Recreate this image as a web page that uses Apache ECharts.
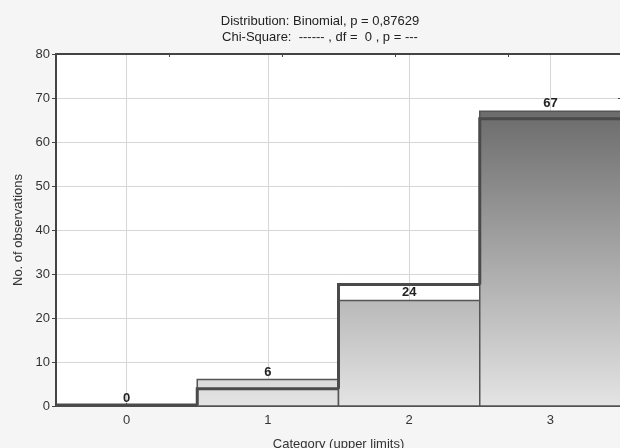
<!DOCTYPE html>
<html><head><meta charset="utf-8">
<script src="https://cdn.jsdelivr.net/npm/echarts@6/dist/echarts.min.js"></script>
<style>html,body{margin:0;padding:0;background:#f5f5f5}#c{width:620px;height:448px}</style>
</head><body><div id="c"></div>
<script>
const categories = [0, 1, 2, 3];
const observed = [0, 6, 24, 67];
const expected = [0.2, 3.9, 27.6, 65.3];
const titleLines = ['Distribution: Binomial, p = 0,87629', 'Chi-Square:  ------ , df =  0 , p = ---'];
const xName = 'Category (upper limits)';
const yName = 'No. of observations';

const FONT = '"Liberation Sans", Arial, sans-serif';
const chart = echarts.init(document.getElementById('c'), null, {renderer: 'canvas'});
const grad = new echarts.graphic.LinearGradient(0, 406, 0, 54, [
  {offset: 0, color: '#e4e4e4'},
  {offset: 1, color: '#545454'}
], true);

chart.setOption({
  animation: false,
  backgroundColor: '#f5f5f5',
  textStyle: {fontFamily: FONT},
  graphic: [
    {type: 'text', x: 320, y: 21, style: {text: titleLines[0], align: 'center', verticalAlign: 'middle', font: '13px ' + FONT, fill: '#222'}},
    {type: 'text', x: 320, y: 37, style: {text: titleLines[1], align: 'center', verticalAlign: 'middle', font: '13px ' + FONT, fill: '#222'}}
  ],
  grid: {left: 56, top: 54, width: 565, height: 352, show: true, backgroundColor: '#ffffff', borderWidth: 0,
         containLabel: false, outerBoundsMode: 'none'},
  xAxis: [{
    type: 'value', min: -0.5, max: 3.5,
    name: xName, nameLocation: 'middle', nameGap: 32,
    nameTextStyle: {fontSize: 13, color: '#333', fontFamily: FONT},
    axisLine: {show: true, onZero: false, lineStyle: {color: '#444', width: 2}},
    axisTick: {show: true, inside: true, length: 3, customValues: categories, lineStyle: {color: '#444'}},
    axisLabel: {customValues: categories, fontSize: 13, color: '#333', margin: 8, fontFamily: FONT},
    splitLine: {show: true, lineStyle: {color: '#d6d6d6', width: 1}}
  }, {
    type: 'value', position: 'top', min: 0, max: 5, interval: 1,
    axisLine: {show: true, onZero: false, lineStyle: {color: '#444', width: 2}},
    axisTick: {show: true, inside: true, length: 3, lineStyle: {color: '#444'}},
    axisLabel: {show: false}, splitLine: {show: false}
  }],
  yAxis: [{
    type: 'value', min: 0, max: 80, interval: 10,
    name: yName, nameLocation: 'middle', nameGap: 28, nameRotate: 90,
    nameTextStyle: {fontSize: 13, color: '#333', fontFamily: FONT},
    axisLine: {show: true, onZero: false, lineStyle: {color: '#444', width: 2}},
    axisTick: {show: true, length: 4, lineStyle: {color: '#444'}},
    axisLabel: {fontSize: 13, color: '#333', margin: 6, fontFamily: FONT},
    splitLine: {show: true, lineStyle: {color: '#d6d6d6', width: 1}}
  }, {
    type: 'value', position: 'right', min: 0, max: 80, interval: 10,
    axisLine: {show: true, onZero: false, lineStyle: {color: '#444', width: 2}},
    axisTick: {show: true, inside: true, length: 3, lineStyle: {color: '#444'}},
    axisLabel: {show: false}, splitLine: {show: false}
  }],
  series: [{
    type: 'custom', xAxisIndex: 0, yAxisIndex: 0, z: 2,
    data: categories.map((c, i) => [c, observed[i]]),
    renderItem(params, api) {
      const x = api.value(0), v = api.value(1);
      const p0 = api.coord([x - 0.5, v]);
      const p1 = api.coord([x + 0.5, 0]);
      return {type: 'group', children: [
        {type: 'rect', shape: {x: p0[0], y: p0[1], width: p1[0] - p0[0], height: p1[1] - p0[1]},
         style: {fill: grad, stroke: '#555', lineWidth: 1.5}},
        {type: 'text', z2: 10, style: {text: String(v), x: (p0[0] + p1[0]) / 2, y: p0[1] - 1, align: 'center', verticalAlign: 'bottom', font: 'bold 13px ' + FONT, fill: '#222'}}
      ]};
    }
  }, {
    type: 'custom', xAxisIndex: 0, yAxisIndex: 0, z: 3,
    data: categories.map((c, i) => [c, expected[i], i > 0 ? expected[i - 1] : expected[i]]),
    renderItem(params, api) {
      const x = api.value(0), v = api.value(1), pv = api.value(2);
      const a = api.coord([x - 0.5, pv]), b = api.coord([x - 0.5, v]), c = api.coord([x + 0.5, v]);
      return {type: 'polyline', shape: {points: [a, b, c]}, style: {stroke: '#4a4a4a', lineWidth: 3, fill: null}};
    }
  }]
});
</script>
</body></html>
